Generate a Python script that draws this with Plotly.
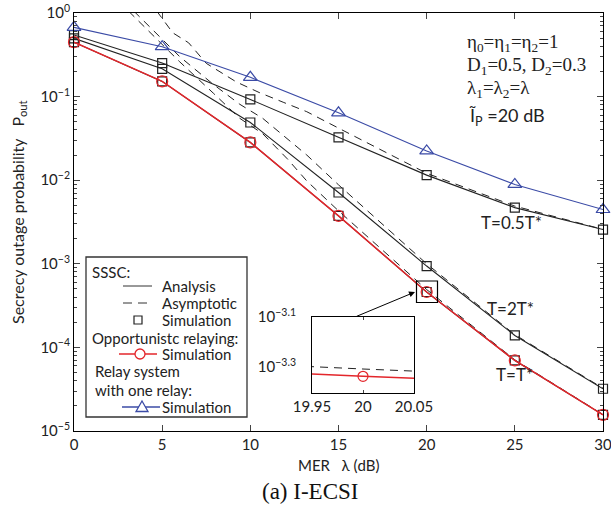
import plotly.graph_objects as go

# ---------------- data ----------------
mer_db = [0, 5, 10, 15, 20, 25, 30]

# SSSC (analysis curves == simulation points)
sssc_half_T = [0.545, 0.252, 0.0925, 0.0325, 0.0115, 0.0047, 0.00257]   # T = 0.5T*
sssc_two_T = [0.497, 0.215, 0.049, 0.00713, 9.4e-4, 1.39e-4, 3.2e-5]      # T = 2T*
sssc_opt_T = [0.448, 0.152, 0.0283, 0.00374, 4.6e-4, 6.98e-5, 1.56e-5]    # T = T*

# opportunistic relaying (simulation)
opp_relay = [0.448, 0.152, 0.0283, 0.00374, 4.6e-4, 6.98e-5, 1.56e-5]
# relay system with one relay (simulation)
one_relay = [0.674, 0.395, 0.17, 0.064, 0.0224, 0.0089, 0.00446]

# asymptotic curves (dashed)
asy_x_half = [4.7, 5.6, 6.5, 7.5, 9.2, 10.5, 11.9, 13.2, 15, 20, 25, 30]
asy_half = [1.05, 0.58, 0.44, 0.25, 0.15, 0.112, 0.085, 0.066, 0.042, 0.0121, 0.0049, 0.00258]
asy_x_two = [3.4, 4.5, 6, 7.9, 9.4, 10.7, 12.1, 13.2, 15, 20, 25, 30]
asy_two = [1.05, 0.62, 0.3, 0.14, 0.081, 0.055, 0.031, 0.020, 0.0088, 0.00100, 1.42e-4, 3.25e-5]
asy_x_opt = [3.1, 4.2, 6, 7.9, 9.4, 10.7, 12.1, 13.2, 15, 20, 25, 30]
asy_opt = [1.05, 0.62, 0.26, 0.11, 0.055, 0.036, 0.018, 0.0098, 0.0043, 4.92e-4, 7.1e-5, 1.57e-5]

x_ticks = [0, 5, 10, 15, 20, 25, 30]
y_exps = [0, -1, -2, -3, -4, -5]
inset_x_ticks = [19.95, 20, 20.05]
inset_y_exps = ["−3.1", "−3.3"]
inset_y_vals = [10 ** -3.1, 10 ** -3.3]

# ---------------- geometry helpers ----------------
W, H = 611, 509
L, R, T, B = 74, 603, 13, 431


def px(xp):
    return (xp - L) / (R - L)


def py(yp):
    return (B - yp) / (B - T)


BLACK = "#222222"
RED = "#e3262b"
BLUE = "#3b4ba6"
FONT = "Lato"
SERIF = "Liberation Serif"

fig = go.Figure()


def add_curve(x, y, color, dash="solid", marker=None, width=1.1, msize=9, xa="x", ya="y"):
    mode = "lines+markers" if marker else "lines"
    fig.add_trace(go.Scatter(
        x=x, y=y, mode=mode, xaxis=xa, yaxis=ya,
        line=dict(color=color, width=width, dash=dash),
        marker=dict(symbol=marker, size=msize, color="rgba(0,0,0,0)",
                    line=dict(color=color, width=1.2)) if marker else None,
        showlegend=False, hoverinfo="skip", cliponaxis=False if marker else True))


DASH = "8px,6px"
for xa, ya in (("x", "y"), ("x2", "y2")):
    add_curve(asy_x_half, asy_half, BLACK, dash=DASH, width=1.0, xa=xa, ya=ya)
    add_curve(asy_x_two, asy_two, BLACK, dash=DASH, width=1.0, xa=xa, ya=ya)
    add_curve(asy_x_opt, asy_opt, BLACK, dash=DASH, width=1.0, xa=xa, ya=ya)

add_curve(mer_db, sssc_half_T, BLACK, marker="square", msize=9)
add_curve(mer_db, sssc_two_T, BLACK, marker="square", msize=9)
add_curve(mer_db, sssc_opt_T, BLACK, marker="square", msize=9)
add_curve(mer_db, one_relay, BLUE, marker="triangle-up", msize=12)
add_curve(mer_db, opp_relay, RED, marker="circle", width=1.5, msize=11)
# inset: red curve
add_curve(mer_db, opp_relay, RED, marker="circle", width=1.5, msize=10, xa="x2", ya="y2")

axis_common = dict(showline=True, linecolor="black", linewidth=1, mirror="allticks",
                   ticks="inside", showgrid=False, zeroline=False,
                   ticklabeloverflow="allow",
                   tickfont=dict(family=FONT, size=15, color="#222"))

fig.update_layout(
    width=W, height=H,
    margin=dict(l=L, r=W - R, t=T, b=H - B, autoexpand=False),
    paper_bgcolor="white", plot_bgcolor="white",
    showlegend=False,
    xaxis=dict(range=[0, 30], tickvals=x_ticks, ticklen=6, **axis_common),
    yaxis=dict(type="log", range=[-5, 0], tickvals=[10 ** e for e in y_exps],
               ticktext=["10<sup>%s</sup>" % (str(e).replace("-", "−")) for e in y_exps],
               ticklen=6, minor=dict(ticks="inside", ticklen=3, dtick="D1"),
               **axis_common),
    xaxis2=dict(domain=[px(312), px(414)], anchor="y2", range=[19.95, 20.05],
                tickvals=inset_x_ticks, ticktext=["19.95", "20", "20.05"], ticklen=3,
                **axis_common),
    yaxis2=dict(domain=[py(393), py(317)], anchor="x2", type="log",
                range=[-3.404, -3.1], tickvals=inset_y_vals,
                ticktext=["10<sup>%s</sup>" % e for e in inset_y_exps], ticklen=0,
                ticklabelstandoff=12, **axis_common),
)

shapes = []
ann = []

# zoom box around (20, ...)
shapes.append(dict(type="rect", xref="paper", yref="paper", x0=px(416.5), x1=px(437.5),
                   y0=py(302.5), y1=py(281), line=dict(color="black", width=1.2)))
ann.append(dict(xref="paper", yref="paper", x=px(415), y=py(292), ax=-60, ay=25,
                text="", showarrow=True, arrowhead=2, arrowsize=1.2, arrowwidth=1, arrowcolor="black"))

# curve labels
for txt, cx, cy in (("T=0.5T*", 511, 222), ("T=2T*", 510, 308), ("T=T*", 514, 374)):
    ann.append(dict(xref="paper", yref="paper", x=px(cx), y=py(cy), text=txt, showarrow=False,
                    font=dict(family=FONT, size=17, color="#222"), xanchor="center", yanchor="middle"))

# parameters text
params = [("η<sub>0</sub>=η<sub>1</sub>=η<sub>2</sub>=1", 43),
          ("D<sub>1</sub>=0.5, D<sub>2</sub>=0.3", 66),
          ("λ<sub>1</sub>=λ<sub>2</sub>=λ", 89)]
for txt, cy in params:
    ann.append(dict(xref="paper", yref="paper", x=px(465), y=py(cy), text=txt, showarrow=False,
                    font=dict(family=SERIF, size=19, color="#222"), xanchor="left", yanchor="middle"))
ann.append(dict(xref="paper", yref="paper", x=px(467), y=py(116), text="Ĩ<sub>P</sub> =20 dB", showarrow=False,
                font=dict(family=FONT, size=18, color="#222"), xanchor="left", yanchor="middle"))

# axis titles
ann.append(dict(xref="paper", yref="paper", x=px(338), y=py(465), text="MER   λ (dB)", showarrow=False,
                font=dict(family=FONT, size=15, color="#222"), xanchor="center", yanchor="middle"))
ann.append(dict(xref="paper", yref="paper", x=px(18), y=py(212),
                text="Secrecy outage probability   P<sub>out</sub>", showarrow=False, textangle=-90,
                font=dict(family=FONT, size=16, color="#222"), xanchor="center", yanchor="middle"))
# caption
ann.append(dict(xref="paper", yref="paper", x=px(310), y=py(491), text="(a) I-ECSI", showarrow=False,
                font=dict(family=SERIF, size=23, color="#111"), xanchor="center", yanchor="middle"))

# legend box
shapes.append(dict(type="rect", xref="paper", yref="paper", x0=px(86), x1=px(247), y0=py(417), y1=py(257),
                   line=dict(color="#333", width=1.3), fillcolor="white", layer="above"))
LF = dict(family=FONT, size=15, color="#222")


def leg_text(txt, x, y):
    ann.append(dict(xref="paper", yref="paper", x=px(x), y=py(y), text=txt, showarrow=False,
                    font=LF, xanchor="left", yanchor="middle"))


leg_text("SSSC:", 90, 272)
shapes.append(dict(type="line", xref="paper", yref="paper", x0=px(123), x1=px(152), y0=py(286), y1=py(286),
                   line=dict(color="#333", width=1), layer="above"))
leg_text("Analysis", 160, 286)
shapes.append(dict(type="line", xref="paper", yref="paper", x0=px(123), x1=px(153), y0=py(303), y1=py(303),
                   line=dict(color="#333", width=1, dash="9px,6px"), layer="above"))
leg_text("Asymptotic", 160, 303)
shapes.append(dict(type="rect", xref="paper", yref="paper", x0=px(134), x1=px(142), y0=py(324), y1=py(316),
                   line=dict(color="#222", width=1.2), layer="above"))
leg_text("Simulation", 160, 320)
leg_text("Opportunistc relaying:", 90, 338)
shapes.append(dict(type="line", xref="paper", yref="paper", x0=px(119), x1=px(157), y0=py(354), y1=py(354),
                   line=dict(color=RED, width=1.3), layer="above"))
shapes.append(dict(type="circle", xref="paper", yref="paper", x0=px(135), x1=px(145), y0=py(359), y1=py(349),
                   line=dict(color=RED, width=1.3), fillcolor="white", layer="above"))
leg_text("Simulation", 160, 354)
leg_text("Relay system", 93, 371)
leg_text("with one relay:", 93, 390)
shapes.append(dict(type="line", xref="paper", yref="paper", x0=px(122), x1=px(160), y0=py(407), y1=py(407),
                   line=dict(color=BLUE, width=1.3), layer="above"))
shapes.append(dict(type="path", xref="paper", yref="paper",
                   path="M %f,%f L %f,%f L %f,%f Z" % (px(136), py(411.5), px(148), py(411.5), px(142), py(401)),
                   line=dict(color=BLUE, width=1.3), fillcolor="white", layer="above"))
leg_text("Simulation", 160, 407)

fig.update_layout(shapes=shapes, annotations=ann)
# remove the browser's default 8px body margin so the figure sits at the page origin
fig.write_html("out.html", config={"displayModeBar": False},
               post_script="document.body.style.margin='0';")
